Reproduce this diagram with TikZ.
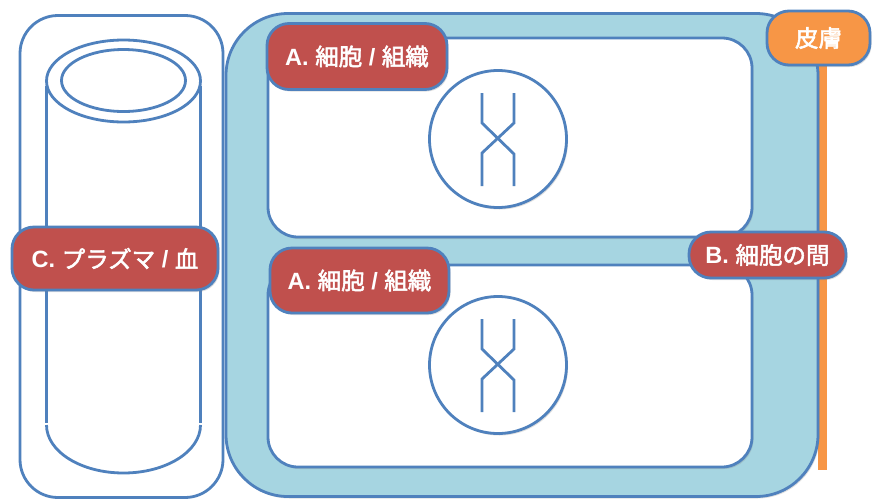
\documentclass[tikz,border=0pt]{standalone}
\usepackage{fontspec}
\setmainfont{Noto Sans CJK JP}[BoldFont={Noto Sans CJK JP}, BoldFeatures={FakeBold=2.2}]
\newfontfamily\latin{Liberation Sans}
\usetikzlibrary{shadows,calc}
\definecolor{lineblue}{HTML}{4F81BD}
\definecolor{cellfill}{HTML}{A6D5E1}
\definecolor{labelred}{HTML}{C0504D}
\definecolor{skinorange}{HTML}{F79646}
\newcommand{\lt}[1]{{\latin\bfseries #1}}
\tikzset{
  outline/.style={draw=lineblue, line width=2.8pt},
  soft/.style={drop shadow={opacity=0.25, shadow xshift=1.5pt, shadow yshift=-2pt}},
  panel/.style={outline, fill=white, rounded corners=#1, inner sep=0pt},
  tag/.style={outline, rounded corners=22pt, text=white, inner sep=0pt,
    font=\bfseries\fontsize{23.5}{27}\selectfont, soft},
  strand/.style={lineblue, line width=2.8pt},
}
\begin{document}
\begin{tikzpicture}[x=1pt, y=-1pt]
\useasboundingbox (0,0) rectangle (872,499);

% blood vessel column
\node[panel=38pt, minimum width=203pt, minimum height=482pt] (vessel) at (121.5,256.5) {};
\draw[strand] (46.5,86) -- (46.5,423);
\draw[strand] (200.5,86) -- (200.5,423);
\draw[strand] (46.5,425) arc[start angle=180, end angle=0, x radius=77, y radius=48];
\draw[strand, fill=white] (123.5,81) ellipse[x radius=77, y radius=41];
\draw[strand] (123.5,80.5) ellipse[x radius=62, y radius=31];

% skin strip
\fill[skinorange] (818,55) rectangle (827,470);

% interstitial space and two cells
\node[outline, fill=cellfill, rounded corners=62pt, minimum width=592pt, minimum height=483pt, soft] (space) at (522,255) {};
\node[panel=30pt, minimum width=484pt, minimum height=199pt, soft] (cellA) at (510,137.5) {};
\node[panel=30pt, minimum width=484pt, minimum height=202pt, soft] (cellB) at (510,366) {};

% nuclei with crossed strands
\foreach \n/\cy in {nucA/139, nucB/365}{
  \node[outline, circle, fill=white, minimum size=137pt, inner sep=0pt, soft] (\n) at (498,\cy) {};
  \draw[strand] ($(\n.center)+(-16,-46)$) -- ++(0,30) -- ++(32,31) -- ++(0,32);
  \draw[strand] ($(\n.center)+(16,-46)$) -- ++(0,30) -- ++(-32,30) -- ++(0,33);
}

% labels
\node[tag, fill=labelred, minimum width=180pt, minimum height=66pt] (tagA1) at (357,56.5) {\lt{A. }細胞\lt{ / }組織};
\node[tag, fill=labelred, minimum width=179pt, minimum height=65pt] (tagA2) at (359.5,280.5) {\lt{A. }細胞\lt{ / }組織};
\node[tag, fill=labelred, minimum width=206pt, minimum height=63pt] (tagC) at (115,258.5) {\lt{C. }プラズマ\lt{ / }血};
\node[tag, fill=labelred, minimum width=157pt, minimum height=46pt] (tagB) at (767.5,255) {\lt{B. }細胞の間};
\node[tag, fill=skinorange, minimum width=103pt, minimum height=54pt] (tagSkin) at (818.5,38) {皮膚};
\end{tikzpicture}
\end{document}
